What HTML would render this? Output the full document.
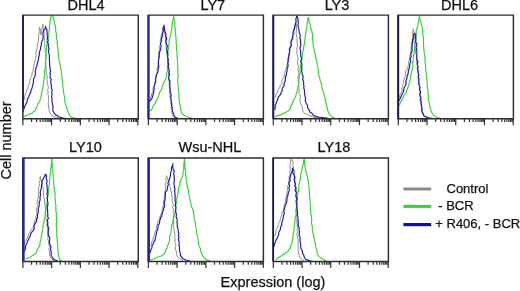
<!DOCTYPE html><html><head><meta charset="utf-8"><style>html,body{margin:0;padding:0;background:#fff;}svg{display:block;filter:blur(0.3px);}text{font-family:"Liberation Sans",sans-serif;fill:#111;stroke:#111;stroke-width:0.25px;}</style></head><body>
<svg width="520" height="291" viewBox="0 0 520 291">
<polyline points="23.0,104.0 22.9,102.2 23.4,100.6 24.7,99.2 24.6,97.4 24.9,95.6 25.3,93.9 26.3,92.3 26.5,90.4 27.5,88.8 28.0,87.1 28.5,85.4 29.4,83.8 29.7,82.0 30.1,80.2 30.5,78.4 31.4,76.8 32.1,75.2 31.9,73.3 32.7,71.7 33.1,70.0 33.7,68.5 33.5,66.8 33.8,65.2 34.3,63.7 34.4,62.1 35.1,60.6 35.5,58.9 35.7,57.2 36.2,55.5 35.6,53.7 36.4,52.0 36.2,50.3 37.3,48.7 37.1,46.9 37.6,45.2 37.7,43.4 38.3,41.8 38.5,40.0 38.7,38.4 38.7,36.7 38.8,35.1 38.8,33.4 39.8,31.9 39.5,30.2 39.1,28.5 39.8,26.9 39.8,28.6 40.6,30.1 40.3,31.8 40.5,33.4 41.0,35.0 41.1,33.2 41.9,31.5 41.6,29.6 42.2,27.9 42.5,26.1 42.9,24.3 43.2,26.2 43.1,28.1 43.5,30.0 43.8,31.7 44.2,33.3 44.0,35.0 44.2,36.7 44.4,38.3 44.6,40.0 44.9,41.6 44.4,43.4 45.0,45.0 44.6,46.6 45.2,48.2 45.1,49.9 45.0,51.5 45.8,53.1 45.5,54.7 46.1,56.3 45.6,57.9 45.9,59.5 45.4,61.2 46.0,62.8 45.6,64.4 46.1,66.0 46.0,67.7 46.2,69.4 46.1,71.1 46.2,72.8 46.7,74.5 47.4,76.1 47.4,77.8 46.8,79.6 47.2,81.2 47.2,82.9 47.6,84.6 48.3,86.4 48.2,88.3 47.6,90.2 48.2,92.0 47.8,93.7 48.4,95.4 48.4,97.1 48.7,98.9 48.5,100.6 48.4,102.3 48.1,104.2 48.7,106.0 48.6,107.9 49.1,109.7 49.2,111.6 50.8,114.2 51.9,115.4 53.3,116.2 54.8,116.8 56.4,117.3 58.2,117.8 60.0,118.3" fill="none" stroke="#8c8c8c" stroke-width="1.0" stroke-linejoin="round"/>
<polyline points="23.7,116.6 26.3,115.4 28.6,114.8 30.6,113.7 32.2,113.1 33.3,111.7 34.8,111.1 35.7,109.4 36.5,107.6 37.4,105.9 37.8,104.1 39.0,102.6 39.9,100.9 40.3,99.1 40.8,97.4 41.3,95.7 41.2,93.9 41.9,92.2 42.2,90.5 42.6,88.9 42.9,87.3 43.3,85.7 43.2,84.0 43.7,82.4 43.4,80.7 44.1,79.1 44.2,77.4 44.6,75.7 44.7,74.0 44.4,72.2 44.7,70.5 44.9,68.8 45.5,67.2 45.3,65.4 45.5,63.7 45.4,62.0 45.5,60.3 45.8,58.6 46.1,56.9 46.3,55.2 45.9,53.4 46.3,51.7 46.2,50.0 46.6,48.4 46.5,46.7 46.9,45.0 47.0,43.3 47.0,41.6 47.5,40.0 48.1,38.4 48.6,36.8 48.8,35.1 48.8,33.5 49.0,31.8 49.2,30.2 49.7,28.5 49.3,26.8 49.6,25.2 50.0,23.6 50.0,21.9 50.4,20.1 50.7,18.3 51.0,16.5 52.5,15.6 53.2,17.1 53.5,18.8 54.1,20.3 54.2,22.0 54.4,23.6 55.3,25.2 55.6,26.8 55.7,28.5 55.6,30.2 55.8,31.8 56.4,33.4 56.3,35.1 56.4,36.8 56.5,38.4 57.2,40.0 57.3,41.7 57.1,43.4 57.4,45.0 57.8,46.6 57.9,48.3 58.0,50.0 57.9,51.6 58.6,53.2 58.4,54.9 58.8,56.6 58.8,58.2 59.0,59.9 59.4,61.9 59.9,64.0 60.3,66.0 60.6,67.7 61.0,69.3 61.3,71.0 61.3,72.8 61.6,74.4 61.9,76.1 62.2,77.8 62.3,79.5 62.5,81.2 62.7,82.9 62.9,84.6 62.8,86.5 63.1,88.3 63.5,90.1 63.6,92.0 63.7,93.7 64.2,95.4 64.5,97.1 65.0,98.8 64.6,100.6 65.2,102.3 65.4,104.4 66.5,106.4 66.7,108.5 67.4,110.2 68.1,111.9 68.8,113.6 69.6,115.3 70.9,116.7 73.0,117.8 74.7,118.0 76.3,118.3 78.0,118.5" fill="none" stroke="#38d038" stroke-width="1.15" stroke-linejoin="round"/>
<polyline points="23.0,112.0 23.7,109.4 24.6,106.8 25.8,104.2 26.9,102.7 27.1,100.8 28.0,98.3 29.0,96.2 29.7,94.0 30.8,92.4 30.9,90.5 31.7,88.8 32.3,87.1 32.7,85.4 33.1,83.7 33.5,82.0 33.4,80.1 33.8,78.4 34.8,76.8 35.1,75.1 35.6,73.4 35.1,71.7 35.7,70.0 35.9,68.2 36.6,66.5 37.1,64.8 37.4,63.0 37.9,61.1 38.6,59.4 38.5,57.5 39.3,55.7 39.2,53.8 39.4,52.1 40.0,50.6 40.6,49.0 40.5,47.3 41.3,45.8 41.3,44.1 41.6,41.9 42.6,40.0 42.9,38.3 43.3,36.6 42.9,34.9 42.9,33.2 43.4,31.5 44.2,29.8 45.3,28.3 45.5,26.4 45.9,28.1 47.0,29.7 47.0,31.5 47.2,33.3 47.2,35.1 47.6,36.8 47.2,38.6 48.3,40.3 47.6,42.2 48.4,43.9 48.2,45.6 48.7,47.3 49.0,49.0 48.5,50.7 48.6,52.4 49.2,54.1 49.3,55.8 49.4,57.5 49.4,59.2 49.4,60.9 49.7,62.6 49.5,64.3 49.9,66.0 50.0,67.7 50.0,69.4 50.8,71.0 49.9,72.8 50.4,74.5 50.1,76.2 50.1,77.9 51.4,79.5 50.6,81.2 50.9,82.9 51.2,84.6 51.5,86.4 51.4,88.3 52.2,90.1 51.8,92.0 51.9,93.7 51.9,95.4 51.5,97.2 52.2,98.9 51.8,100.6 52.1,102.3 52.5,104.1 52.9,105.9 53.0,107.7 52.8,109.5 53.0,111.2 53.9,112.6 55.4,114.7 57.1,115.4 58.5,116.7 60.5,117.2 62.6,117.8 64.8,118.2 67.0,118.5" fill="none" stroke="#1a1aae" stroke-width="1.15" stroke-linejoin="round"/>
<path d="M22.90,118.80 V15.10 H138.30 V118.80 H22.90Z" fill="none" stroke="#2e2e2e" stroke-width="1.45"/>
<line x1="23.00" y1="15.1" x2="23.00" y2="108" stroke="#1a1a60" stroke-width="1.8"/>
<path d="M22.90,118.80v6.5 M31.55,118.80v3.3 M36.61,118.80v3.3 M40.20,118.80v3.3 M42.98,118.80v3.3 M45.26,118.80v3.3 M47.18,118.80v3.3 M48.85,118.80v3.3 M50.32,118.80v3.3 M51.63,118.80v6.5 M60.28,118.80v3.3 M65.34,118.80v3.3 M68.93,118.80v3.3 M71.71,118.80v3.3 M73.99,118.80v3.3 M75.91,118.80v3.3 M77.58,118.80v3.3 M79.05,118.80v3.3 M80.36,118.80v6.5 M89.01,118.80v3.3 M94.07,118.80v3.3 M97.66,118.80v3.3 M100.44,118.80v3.3 M102.72,118.80v3.3 M104.64,118.80v3.3 M106.31,118.80v3.3 M107.78,118.80v3.3 M109.09,118.80v6.5 M117.74,118.80v3.3 M122.80,118.80v3.3 M126.39,118.80v3.3 M129.17,118.80v3.3 M131.45,118.80v3.3 M133.37,118.80v3.3 M135.04,118.80v3.3 M136.51,118.80v3.3 M137.82,118.80v6.5" stroke="#333" stroke-width="1.2" fill="none"/>
<text x="86.0" y="10.3" font-size="14.5" text-anchor="middle" fill="#111">DHL4</text>
<polyline points="149.5,102.0 150.5,100.1 150.5,97.9 151.5,96.0 151.5,93.9 153.0,92.1 153.0,90.0 153.0,88.1 153.7,86.3 154.5,84.6 154.3,82.6 155.4,80.9 155.6,79.0 155.7,77.1 156.2,75.3 156.9,73.5 157.3,71.7 156.7,69.6 157.5,67.9 157.8,66.0 158.3,64.3 158.1,62.6 158.6,61.0 158.4,59.2 158.6,57.5 158.7,55.9 158.9,54.2 158.5,52.4 159.5,50.8 159.8,49.1 159.4,47.4 159.8,45.5 160.5,43.7 160.2,41.7 160.3,39.8 161.0,38.0 160.9,36.2 161.4,34.5 162.2,32.9 162.8,31.3 162.7,29.5 163.6,27.9 163.6,29.7 164.6,31.4 164.5,33.3 165.0,35.0 165.7,36.6 165.4,38.3 165.4,40.0 165.3,41.7 166.1,43.3 165.8,45.0 166.1,46.7 166.7,48.3 166.5,50.0 166.5,51.6 166.9,53.2 167.0,54.8 167.4,56.4 167.6,58.0 167.5,59.6 167.8,61.2 168.1,62.8 167.7,64.4 168.0,66.0 168.1,67.7 167.7,69.4 168.1,71.1 168.8,72.7 168.5,74.5 168.2,76.2 168.7,77.8 168.6,79.5 169.1,81.2 169.2,82.9 169.2,84.6 169.4,86.4 169.2,88.3 169.9,90.1 169.7,92.0 170.1,93.7 169.8,95.5 169.9,97.2 170.7,98.8 171.0,100.5 170.8,102.3 170.8,104.0 171.6,105.7 170.9,107.5 171.6,109.2 172.1,110.8 171.8,112.6 172.3,114.7 173.5,116.5 176.0,118.3" fill="none" stroke="#8c8c8c" stroke-width="1.0" stroke-linejoin="round"/>
<polyline points="149.4,111.1 151.1,110.2 152.1,108.6 152.8,106.8 154.6,104.2 155.6,102.6 156.3,100.8 157.1,99.1 158.0,97.4 158.7,95.7 159.1,94.0 159.7,92.3 160.9,90.7 161.7,89.0 162.3,87.1 162.5,85.3 163.7,83.8 164.0,82.0 165.1,80.4 165.7,78.6 166.4,76.9 166.5,75.2 166.6,73.4 167.1,71.7 167.4,70.0 167.4,68.3 167.6,66.6 167.6,64.9 167.9,63.2 167.7,61.5 167.7,59.7 167.5,58.0 167.6,56.3 168.1,54.6 168.0,52.9 167.9,51.2 168.2,49.6 168.7,48.0 168.5,46.3 169.1,44.7 169.2,43.0 169.0,41.3 169.3,39.7 169.8,38.1 170.3,36.3 170.4,34.4 171.1,32.6 171.4,30.9 171.5,29.2 172.1,27.6 171.7,25.9 172.3,24.3 172.2,22.5 172.5,20.9 173.2,19.3 173.5,17.6 173.5,15.9 174.0,17.7 174.0,19.6 174.7,21.4 174.8,23.3 174.9,25.2 174.7,27.0 175.5,28.9 175.0,30.8 175.4,32.6 175.6,34.3 175.7,36.0 176.0,37.7 176.0,39.4 176.3,41.0 176.0,42.8 176.3,44.4 176.7,46.1 176.3,47.8 176.5,49.5 176.7,51.2 177.2,52.8 176.9,54.5 176.9,56.2 177.4,57.9 177.2,59.6 177.6,61.2 177.7,62.9 177.7,64.6 177.6,66.3 178.0,67.9 177.7,69.6 178.0,71.2 177.8,72.9 178.2,74.6 178.2,76.2 177.9,77.9 177.7,79.6 177.7,81.3 177.9,82.9 178.0,84.6 178.2,86.3 178.1,88.0 178.4,89.7 178.7,91.3 178.9,93.0 178.9,94.7 178.8,96.4 179.0,98.1 179.3,99.8 179.4,101.5 179.4,103.2 180.1,105.0 180.3,106.9 180.8,108.7 180.9,110.6 181.5,112.4 182.5,114.0 183.9,115.2 185.5,116.0 187.2,116.7 189.0,117.3 192.0,118.2" fill="none" stroke="#38d038" stroke-width="1.15" stroke-linejoin="round"/>
<polyline points="149.4,100.8 150.8,100.0 152.0,98.3 152.8,95.7 153.2,94.0 153.7,92.3 153.9,90.5 154.2,88.8 154.0,87.0 154.6,85.4 154.9,83.7 155.7,82.1 155.7,80.3 155.6,78.4 156.3,76.8 156.2,75.0 157.2,73.4 157.9,71.8 158.0,70.0 158.3,68.3 158.9,66.6 158.4,64.9 158.5,63.1 158.4,61.4 158.8,59.7 158.8,58.0 159.4,56.3 159.3,54.6 159.2,52.9 159.9,51.2 160.7,49.4 160.9,47.6 161.0,45.7 160.5,43.7 161.2,41.9 161.6,40.2 161.4,38.5 162.3,36.9 162.3,35.2 162.5,33.5 163.1,31.9 163.4,30.2 162.9,28.4 163.5,26.7 164.0,25.1 164.1,27.0 164.7,28.9 164.6,30.8 165.5,32.6 166.0,34.3 165.5,36.0 166.4,37.6 166.6,39.3 165.8,41.1 166.2,42.8 166.6,44.4 167.5,46.1 166.8,47.8 166.7,49.6 167.4,51.2 167.3,52.9 167.8,54.5 167.6,56.2 167.8,57.9 168.4,59.5 168.0,61.2 168.2,62.9 168.8,64.5 168.0,66.3 168.7,67.9 168.9,69.6 169.4,71.2 168.8,72.9 169.7,74.5 168.9,76.3 168.8,78.0 168.9,79.6 170.1,81.2 169.9,82.9 169.8,84.6 169.7,86.5 170.2,88.3 170.1,90.2 170.2,92.0 170.9,93.7 171.0,95.4 170.8,97.1 170.9,98.9 171.4,100.6 171.3,102.3 171.9,103.9 171.5,105.6 172.4,107.2 172.1,108.9 172.3,110.6 172.9,112.3 173.7,113.9 173.9,115.7 175.4,117.3 178.0,118.5" fill="none" stroke="#1a1aae" stroke-width="1.15" stroke-linejoin="round"/>
<path d="M148.40,118.80 V15.10 H263.40 V118.80 H148.40Z" fill="none" stroke="#2e2e2e" stroke-width="1.45"/>
<line x1="148.50" y1="15.1" x2="148.50" y2="118.8" stroke="#24249a" stroke-width="2.3"/>
<path d="M148.40,118.80v6.5 M157.05,118.80v3.3 M162.11,118.80v3.3 M165.70,118.80v3.3 M168.48,118.80v3.3 M170.76,118.80v3.3 M172.68,118.80v3.3 M174.35,118.80v3.3 M175.82,118.80v3.3 M177.13,118.80v6.5 M185.78,118.80v3.3 M190.84,118.80v3.3 M194.43,118.80v3.3 M197.21,118.80v3.3 M199.49,118.80v3.3 M201.41,118.80v3.3 M203.08,118.80v3.3 M204.55,118.80v3.3 M205.86,118.80v6.5 M214.51,118.80v3.3 M219.57,118.80v3.3 M223.16,118.80v3.3 M225.94,118.80v3.3 M228.22,118.80v3.3 M230.14,118.80v3.3 M231.81,118.80v3.3 M233.28,118.80v3.3 M234.59,118.80v6.5 M243.24,118.80v3.3 M248.30,118.80v3.3 M251.89,118.80v3.3 M254.67,118.80v3.3 M256.95,118.80v3.3 M258.87,118.80v3.3 M260.54,118.80v3.3 M262.01,118.80v3.3 M263.32,118.80v6.5" stroke="#333" stroke-width="1.2" fill="none"/>
<text x="212.8" y="10.3" font-size="14.5" text-anchor="middle" fill="#111">LY7</text>
<polyline points="275.3,97.4 275.7,95.1 277.0,93.1 277.9,91.0 278.7,88.8 279.7,87.5 280.0,85.8 281.2,84.6 282.1,83.2 281.7,81.3 282.4,79.8 282.9,78.2 284.1,76.9 284.5,75.3 284.6,73.6 285.0,72.0 285.5,70.3 286.0,68.6 286.6,66.9 287.0,65.2 287.5,63.5 287.8,61.8 288.0,60.0 287.8,58.2 288.7,56.7 288.9,55.0 289.0,53.3 290.1,51.7 289.9,50.0 290.0,48.3 290.8,46.7 291.0,45.0 290.9,43.3 291.8,41.8 292.3,40.2 293.0,38.6 293.0,36.9 292.8,35.1 294.0,33.7 294.0,32.0 294.1,30.2 294.3,28.4 295.4,26.8 295.3,25.0 296.0,23.3 296.5,24.9 296.7,26.6 296.5,28.3 296.6,30.0 296.3,31.7 296.1,33.3 296.4,35.0 296.5,36.7 297.3,38.3 297.0,40.0 297.2,41.6 297.0,43.2 297.5,44.8 297.4,46.4 296.9,48.0 296.8,49.6 297.0,51.2 296.7,52.9 297.2,54.5 297.3,56.2 298.0,57.8 298.1,59.5 297.4,61.2 297.6,62.9 297.7,64.6 298.4,66.2 298.3,67.9 298.0,69.6 298.4,71.2 298.8,72.9 298.9,74.6 297.9,76.3 297.9,77.9 298.2,79.6 298.4,81.3 298.9,82.9 298.5,84.6 299.1,86.2 298.7,88.0 299.3,89.6 299.0,91.4 299.0,93.1 300.1,94.7 300.4,96.4 300.4,98.1 299.8,99.9 300.2,101.5 300.7,103.2 300.9,104.8 302.1,106.1 302.3,107.7 302.8,109.3 302.7,111.0 303.5,112.4 304.9,113.6 306.7,114.1 308.2,115.2 310.1,115.9 312.1,116.6 314.0,117.3 316.0,117.6 318.0,117.9 320.0,118.2" fill="none" stroke="#8c8c8c" stroke-width="1.0" stroke-linejoin="round"/>
<polyline points="274.7,117.5 276.1,116.2 278.2,115.4 280.4,114.9 282.6,114.0 284.7,112.8 286.4,111.9 288.1,111.1 289.6,109.6 290.7,107.7 291.0,105.9 292.0,104.3 292.6,102.5 293.3,100.8 294.1,99.1 295.0,97.4 295.8,95.7 296.2,94.1 296.9,92.6 297.3,91.0 297.5,89.4 297.9,87.8 297.9,86.1 298.5,84.6 298.8,82.9 298.9,81.3 298.9,79.6 299.3,77.9 299.2,76.2 299.4,74.6 300.2,72.9 300.3,71.3 299.9,69.5 300.4,67.9 300.7,66.2 300.6,64.5 300.9,62.8 301.6,61.2 301.9,59.6 302.0,57.9 302.2,56.2 302.4,54.5 302.7,52.9 303.0,51.2 303.5,49.5 303.7,47.8 303.6,46.1 304.4,44.5 304.4,42.8 304.7,41.1 304.8,39.4 305.3,37.7 305.2,36.0 305.4,34.3 305.9,32.6 306.1,30.9 306.3,29.2 307.0,27.6 306.8,25.8 307.1,24.1 307.4,22.4 307.7,20.7 307.8,19.0 308.2,17.3 308.7,19.0 308.9,20.7 309.2,22.5 310.2,24.0 310.5,25.8 310.6,27.6 311.2,29.2 311.8,30.9 312.2,32.6 312.4,34.3 312.7,35.9 312.3,37.6 312.4,39.3 313.1,41.0 312.9,42.7 313.2,44.3 313.3,46.0 313.7,47.7 314.2,49.5 314.5,51.3 314.6,53.1 315.4,54.7 315.8,56.5 315.9,58.3 316.4,60.0 316.4,61.6 317.2,63.2 317.3,64.8 317.4,66.4 317.9,68.0 318.2,69.6 318.4,71.2 318.5,72.8 318.7,74.4 319.1,76.0 319.6,77.6 319.9,79.2 320.2,80.9 320.8,82.4 321.4,84.0 321.7,85.6 321.8,87.4 322.4,89.0 322.8,90.8 323.7,92.3 323.9,94.1 324.4,95.8 325.0,97.4 325.1,99.2 325.3,101.0 326.0,102.6 326.6,104.3 326.5,106.1 327.4,107.7 327.4,109.5 328.1,111.2 329.1,113.4 330.3,115.4 332.4,117.1 335.0,118.2" fill="none" stroke="#38d038" stroke-width="1.15" stroke-linejoin="round"/>
<polyline points="274.6,110.0 275.3,107.7 275.1,105.4 276.1,103.4 276.9,101.2 277.8,99.1 278.2,97.2 279.6,95.7 280.7,94.1 281.3,92.3 282.2,90.7 282.1,88.7 283.0,87.1 284.1,85.6 284.1,83.7 284.7,82.0 285.4,80.3 285.3,78.5 285.5,76.7 286.4,75.1 286.5,73.4 286.9,71.7 287.3,70.0 287.1,68.2 288.0,66.6 288.0,64.9 287.7,63.1 288.3,61.4 288.1,59.7 288.9,58.1 288.5,56.3 289.1,54.6 289.4,52.9 289.6,51.2 289.3,49.4 289.8,47.8 291.0,46.3 291.4,44.7 290.8,42.8 291.1,41.2 291.7,39.6 292.6,38.0 292.4,36.3 293.2,34.8 292.9,33.0 293.2,31.4 293.8,29.9 294.7,28.4 294.6,26.7 295.1,25.1 295.5,23.3 296.2,21.5 295.7,19.5 296.3,17.7 297.0,15.9 297.6,17.5 297.8,19.2 298.2,20.8 298.2,22.5 298.1,24.3 298.0,26.0 298.4,27.6 298.9,29.2 299.0,30.9 299.2,32.6 300.0,34.4 300.2,36.3 299.8,38.2 300.5,40.0 300.4,41.9 300.8,43.7 300.6,45.6 300.0,47.5 300.2,49.4 300.7,51.2 300.4,52.9 300.9,54.5 300.7,56.2 301.6,57.9 301.4,59.5 300.8,61.2 301.6,62.9 301.9,64.5 301.8,66.2 301.7,67.9 301.8,69.6 301.6,71.3 302.2,72.9 302.2,74.6 303.2,76.2 303.0,77.9 302.6,79.6 303.5,81.2 303.7,82.9 303.5,84.6 304.1,86.2 303.6,87.9 304.4,89.5 304.4,91.2 304.6,92.8 304.8,94.5 304.8,96.1 305.6,97.7 305.4,99.4 305.3,101.1 305.9,102.6 306.7,104.1 307.7,105.5 307.4,107.3 308.2,108.7 309.3,110.3 310.0,112.2 311.8,113.0 312.8,114.8 314.3,115.9 316.4,116.5 318.5,117.1 320.6,117.3 322.8,117.6 324.5,117.8 326.3,118.0 328.0,118.2" fill="none" stroke="#1a1aae" stroke-width="1.15" stroke-linejoin="round"/>
<path d="M273.30,118.80 V15.10 H388.40 V118.80 H273.30Z" fill="none" stroke="#2e2e2e" stroke-width="1.45"/>
<line x1="273.30" y1="15.1" x2="273.30" y2="118.8" stroke="#141460" stroke-width="1.9"/>
<path d="M273.30,118.80v6.5 M281.95,118.80v3.3 M287.01,118.80v3.3 M290.60,118.80v3.3 M293.38,118.80v3.3 M295.66,118.80v3.3 M297.58,118.80v3.3 M299.25,118.80v3.3 M300.72,118.80v3.3 M302.03,118.80v6.5 M310.68,118.80v3.3 M315.74,118.80v3.3 M319.33,118.80v3.3 M322.11,118.80v3.3 M324.39,118.80v3.3 M326.31,118.80v3.3 M327.98,118.80v3.3 M329.45,118.80v3.3 M330.76,118.80v6.5 M339.41,118.80v3.3 M344.47,118.80v3.3 M348.06,118.80v3.3 M350.84,118.80v3.3 M353.12,118.80v3.3 M355.04,118.80v3.3 M356.71,118.80v3.3 M358.18,118.80v3.3 M359.49,118.80v6.5 M368.14,118.80v3.3 M373.20,118.80v3.3 M376.79,118.80v3.3 M379.57,118.80v3.3 M381.85,118.80v3.3 M383.77,118.80v3.3 M385.44,118.80v3.3 M386.91,118.80v3.3 M388.22,118.80v6.5" stroke="#333" stroke-width="1.2" fill="none"/>
<text x="337.0" y="10.3" font-size="14.5" text-anchor="middle" fill="#111">LY3</text>
<polyline points="399.5,97.0 400.3,94.2 401.4,92.6 402.0,90.8 401.7,89.0 402.4,87.3 402.8,85.6 402.9,83.9 403.9,82.3 403.7,80.5 404.4,78.9 404.9,77.2 405.4,75.5 405.3,73.7 405.4,71.9 406.3,70.3 407.5,68.7 408.0,66.8 408.3,65.1 408.4,63.3 408.6,61.5 409.7,59.9 409.8,58.2 409.8,56.4 410.3,54.7 410.6,52.9 410.9,51.2 411.0,49.6 411.1,48.0 411.2,46.4 411.5,44.8 411.2,43.2 412.3,41.6 412.0,40.0 412.3,38.2 412.4,36.3 412.7,34.5 412.2,32.5 413.4,30.8 413.1,28.9 413.6,30.7 413.0,32.6 413.4,34.5 413.6,36.3 414.1,38.1 414.0,40.0 414.0,41.6 414.1,43.2 415.0,44.8 415.0,46.4 414.6,48.1 415.5,49.6 415.5,51.2 415.2,52.9 416.3,54.4 416.6,56.1 416.4,57.8 416.8,59.4 416.7,61.1 416.6,62.8 417.5,64.3 417.5,66.0 417.3,67.7 417.5,69.4 418.3,71.0 418.5,72.7 418.4,74.4 418.6,76.1 418.2,77.9 418.2,79.6 418.7,81.2 419.0,82.9 419.0,84.6 419.6,86.2 419.1,88.0 419.5,89.7 420.2,91.3 419.3,93.1 419.6,94.8 420.7,96.4 420.5,98.1 420.0,99.9 420.2,101.6 420.8,103.2 420.9,105.1 421.4,106.9 421.8,108.7 422.2,110.5 422.0,112.4 422.9,114.0 423.5,115.8 425.2,116.9 427.0,118.0" fill="none" stroke="#8c8c8c" stroke-width="1.0" stroke-linejoin="round"/>
<polyline points="399.4,105.4 400.3,102.8 401.4,101.2 402.0,99.4 403.1,97.8 403.7,96.0 404.9,94.2 406.3,92.5 406.6,90.7 407.3,89.0 407.9,87.3 408.8,85.7 408.8,83.9 409.8,82.3 409.8,80.5 410.4,78.9 410.6,77.1 410.7,75.4 411.4,73.7 411.3,71.9 412.2,70.4 412.3,68.6 412.7,66.9 412.8,65.2 412.4,63.4 413.1,61.7 413.1,60.0 413.4,58.2 413.5,56.5 413.4,54.7 414.3,53.0 414.2,51.2 414.8,49.4 414.9,47.5 414.9,45.6 415.1,43.7 415.5,41.9 415.6,40.3 415.5,38.6 416.1,37.0 416.3,35.4 416.2,33.8 416.1,32.1 416.3,30.5 416.8,28.9 417.6,27.1 417.9,25.1 418.2,23.3 418.7,21.5 418.7,19.6 419.1,17.8 419.2,15.9 419.3,17.8 420.1,19.6 420.8,21.4 421.1,23.2 421.5,25.1 422.6,27.9 422.5,29.7 422.8,31.4 422.9,33.2 422.8,34.9 423.4,36.6 423.6,38.4 423.5,40.1 423.5,41.9 423.5,43.8 423.6,45.6 423.7,47.5 423.8,49.4 424.2,51.2 424.1,52.9 424.5,54.5 424.9,56.1 424.8,57.8 425.3,59.4 425.0,61.1 425.1,62.7 425.4,64.3 425.5,66.0 425.7,67.7 425.7,69.4 425.8,71.1 426.3,72.8 426.5,74.4 426.5,76.1 426.7,77.8 426.8,79.5 427.1,81.2 427.3,82.9 427.2,84.6 427.5,86.4 427.3,88.3 428.1,90.0 428.0,91.8 428.1,93.7 428.5,95.5 428.4,97.3 428.3,99.0 428.6,100.6 428.9,102.2 429.5,103.8 429.5,105.5 429.9,107.5 430.6,109.5 431.3,111.4 432.3,113.5 433.6,115.5 435.1,116.3 436.5,117.2 438.2,117.8 440.0,118.3" fill="none" stroke="#38d038" stroke-width="1.15" stroke-linejoin="round"/>
<polyline points="398.6,101.1 399.7,99.5 400.3,97.7 401.5,96.1 402.0,94.2 403.2,92.2 403.7,90.0 404.1,87.7 405.4,85.7 406.1,83.8 405.8,81.7 406.4,79.7 407.1,77.7 407.1,75.6 408.1,73.9 408.3,72.0 408.5,70.1 409.3,68.4 409.6,66.6 409.8,64.7 410.0,63.0 410.8,61.5 410.1,59.6 410.4,58.0 411.2,56.4 410.9,54.7 411.0,53.1 411.9,51.5 412.2,49.9 411.9,48.2 412.2,46.6 412.0,44.9 412.4,43.3 412.5,41.6 412.6,40.0 413.5,38.4 413.8,36.8 413.6,35.0 414.7,33.0 415.3,35.0 415.6,37.0 416.0,40.0 415.5,41.9 416.6,43.6 416.9,45.5 416.1,47.4 416.8,49.2 416.7,51.0 416.9,52.9 416.8,54.8 416.8,56.7 416.7,58.6 417.4,60.5 418.0,62.1 417.1,63.7 417.3,65.3 418.2,66.9 417.4,68.5 418.1,70.1 418.0,71.7 418.0,73.3 418.9,74.9 418.0,76.5 419.0,78.1 418.8,79.7 418.9,81.8 418.8,84.0 419.5,86.0 420.2,87.7 419.4,89.5 420.3,91.1 420.7,92.8 419.8,94.6 420.1,96.4 421.1,98.0 420.5,99.8 421.2,101.5 421.1,103.2 421.6,105.0 421.7,106.9 422.2,108.7 421.6,110.6 422.4,112.4 423.5,114.0 423.9,115.8 425.4,116.5 427.0,117.1 428.5,117.8 430.2,118.0 432.0,118.2" fill="none" stroke="#1a1aae" stroke-width="1.15" stroke-linejoin="round"/>
<path d="M398.30,118.80 V15.10 H513.40 V118.80 H398.30Z" fill="none" stroke="#2e2e2e" stroke-width="1.45"/>
<line x1="398.20" y1="15.1" x2="398.20" y2="118.8" stroke="#141450" stroke-width="1.9"/>
<path d="M398.30,118.80v6.5 M406.95,118.80v3.3 M412.01,118.80v3.3 M415.60,118.80v3.3 M418.38,118.80v3.3 M420.66,118.80v3.3 M422.58,118.80v3.3 M424.25,118.80v3.3 M425.72,118.80v3.3 M427.03,118.80v6.5 M435.68,118.80v3.3 M440.74,118.80v3.3 M444.33,118.80v3.3 M447.11,118.80v3.3 M449.39,118.80v3.3 M451.31,118.80v3.3 M452.98,118.80v3.3 M454.45,118.80v3.3 M455.76,118.80v6.5 M464.41,118.80v3.3 M469.47,118.80v3.3 M473.06,118.80v3.3 M475.84,118.80v3.3 M478.12,118.80v3.3 M480.04,118.80v3.3 M481.71,118.80v3.3 M483.18,118.80v3.3 M484.49,118.80v6.5 M493.14,118.80v3.3 M498.20,118.80v3.3 M501.79,118.80v3.3 M504.57,118.80v3.3 M506.85,118.80v3.3 M508.77,118.80v3.3 M510.44,118.80v3.3 M511.91,118.80v3.3 M513.22,118.80v6.5" stroke="#333" stroke-width="1.2" fill="none"/>
<text x="459.6" y="10.3" font-size="14.5" text-anchor="middle" fill="#111">DHL6</text>
<polyline points="24.0,245.0 24.4,243.1 25.1,241.3 26.5,239.9 27.0,238.0 28.1,236.7 28.7,235.1 29.1,233.4 30.0,232.0 30.8,230.4 31.8,228.9 33.1,227.6 33.9,226.1 34.0,224.5 34.0,222.8 34.7,221.3 34.9,219.7 35.9,218.3 35.9,216.4 36.9,214.7 36.5,212.7 36.8,210.9 36.6,209.2 36.9,207.6 37.5,205.9 36.9,204.2 37.6,202.6 37.4,200.9 37.9,199.0 38.5,197.1 38.5,195.1 38.7,193.1 38.7,191.2 38.5,189.2 38.8,187.3 39.3,185.4 39.1,183.5 39.4,181.7 40.3,179.9 39.9,178.0 40.5,176.2 40.3,178.0 41.3,179.7 41.6,181.4 41.8,183.2 42.0,185.0 42.8,186.8 43.2,188.8 43.5,190.8 43.5,192.7 43.5,194.5 43.6,196.4 44.1,198.2 44.6,200.0 44.7,202.0 44.9,203.9 45.2,205.9 45.2,207.9 45.8,209.6 45.6,211.3 45.4,213.1 46.0,214.8 45.7,216.6 46.0,218.3 46.4,220.0 47.2,221.6 46.9,223.4 46.5,225.2 47.6,226.8 47.1,228.6 47.7,230.3 47.7,232.0 48.2,233.7 48.1,235.5 48.1,237.3 47.7,239.1 48.4,240.8 48.7,242.4 48.9,244.1 49.3,245.7 49.5,247.4 48.8,249.1 49.5,250.7 49.4,252.7 49.5,254.7 50.1,256.7 51.7,258.9 54.0,260.6" fill="none" stroke="#8c8c8c" stroke-width="1.0" stroke-linejoin="round"/>
<polyline points="25.6,259.2 27.5,258.4 29.4,257.4 31.2,256.4 32.6,255.4 34.1,254.5 35.7,253.8 36.5,251.6 37.4,249.5 38.3,247.8 39.4,246.2 40.0,244.4 40.0,242.6 40.5,240.9 41.0,239.3 41.1,237.5 41.3,235.8 41.7,234.1 42.2,232.4 42.5,230.7 42.8,229.0 42.8,227.2 43.3,225.5 43.4,223.8 44.0,222.2 44.0,220.4 44.2,218.7 45.1,217.1 45.1,215.3 45.2,213.7 45.2,212.1 46.0,210.5 45.9,208.9 45.9,207.3 46.7,205.7 46.4,204.1 47.1,202.5 47.4,200.9 47.4,199.3 47.5,197.6 47.7,195.9 48.3,194.2 48.4,192.5 48.5,190.8 48.4,189.0 48.7,187.3 49.2,185.6 49.5,183.9 49.5,182.2 49.4,180.5 49.8,178.8 49.8,177.0 50.1,175.3 50.4,173.6 50.6,171.9 50.7,170.2 50.5,168.4 51.3,166.7 51.2,165.0 51.5,163.4 51.6,161.8 51.5,160.1 51.7,158.5 52.0,160.2 51.9,161.9 52.1,163.5 52.6,165.2 52.1,166.9 52.2,168.6 52.6,170.2 53.0,171.9 52.9,173.6 53.3,175.3 53.1,177.1 53.7,178.7 53.7,180.5 53.9,182.2 53.6,184.0 54.2,185.6 53.9,187.4 54.2,189.1 54.6,190.8 55.1,192.6 55.2,194.5 54.8,196.3 55.0,198.2 55.4,200.0 55.3,201.7 55.4,203.3 56.0,204.9 55.8,206.6 55.8,208.2 55.9,209.9 55.9,211.5 56.5,213.1 56.3,214.8 56.3,216.5 56.6,218.2 56.3,220.0 56.8,221.7 56.2,223.4 56.4,225.1 56.3,226.8 56.7,228.6 56.7,230.3 56.7,232.0 56.9,233.8 56.6,235.5 57.0,237.3 57.2,239.0 57.2,240.8 57.3,242.6 57.8,244.3 57.8,246.1 57.6,247.8 57.8,249.6 58.1,251.5 58.5,253.4 58.5,255.4 58.9,257.3 59.5,258.9 60.0,260.4 62.0,261.0" fill="none" stroke="#38d038" stroke-width="1.15" stroke-linejoin="round"/>
<polyline points="23.5,252.0 24.6,250.4 25.6,248.4 25.4,246.1 26.3,244.4 27.1,242.7 27.7,240.8 28.8,239.2 29.2,237.4 30.4,235.9 30.6,234.1 31.7,232.3 33.1,230.7 34.0,229.1 34.1,227.3 34.1,225.5 34.8,223.8 36.6,221.3 36.4,219.5 37.4,217.9 37.4,216.2 37.6,214.5 38.3,212.6 38.3,210.6 38.2,208.6 39.1,206.4 39.3,204.0 39.2,202.0 40.2,200.1 40.0,198.2 40.2,196.2 40.6,194.3 40.2,192.3 40.7,190.4 41.3,188.5 41.4,186.4 41.7,184.4 42.1,182.3 42.2,180.6 43.1,179.2 43.6,177.7 44.9,176.4 45.1,174.6 45.9,174.4 46.6,176.3 46.0,178.3 47.1,180.2 46.9,182.2 46.6,183.9 47.2,185.6 47.0,187.3 47.3,189.0 47.4,190.7 47.4,192.5 46.8,194.2 47.8,195.9 47.2,197.6 47.4,199.3 47.5,201.0 48.0,202.7 47.8,204.5 47.7,206.2 47.2,207.9 47.6,209.6 47.6,211.4 47.7,213.1 47.8,214.8 47.7,216.5 48.5,218.2 47.4,220.0 47.7,221.7 47.8,223.4 47.7,225.1 48.1,226.8 48.8,228.5 48.3,230.3 48.4,232.0 48.1,233.8 48.3,235.6 49.6,237.2 49.8,239.0 49.5,240.8 49.4,242.6 49.7,244.3 50.7,246.0 50.8,247.8 50.6,249.6 50.9,251.3 51.4,252.9 50.9,254.6 51.7,256.2 53.4,258.9 55.6,260.4 58.0,261.0" fill="none" stroke="#1a1aae" stroke-width="1.15" stroke-linejoin="round"/>
<path d="M22.90,261.40 V157.90 H138.30 V261.40 H22.90Z" fill="none" stroke="#2e2e2e" stroke-width="1.45"/>
<line x1="23.40" y1="157.9" x2="23.40" y2="261.4" stroke="#26268e" stroke-width="2.5"/>
<path d="M22.90,261.40v6.5 M31.55,261.40v3.3 M36.61,261.40v3.3 M40.20,261.40v3.3 M42.98,261.40v3.3 M45.26,261.40v3.3 M47.18,261.40v3.3 M48.85,261.40v3.3 M50.32,261.40v3.3 M51.63,261.40v6.5 M60.28,261.40v3.3 M65.34,261.40v3.3 M68.93,261.40v3.3 M71.71,261.40v3.3 M73.99,261.40v3.3 M75.91,261.40v3.3 M77.58,261.40v3.3 M79.05,261.40v3.3 M80.36,261.40v6.5 M89.01,261.40v3.3 M94.07,261.40v3.3 M97.66,261.40v3.3 M100.44,261.40v3.3 M102.72,261.40v3.3 M104.64,261.40v3.3 M106.31,261.40v3.3 M107.78,261.40v3.3 M109.09,261.40v6.5 M117.74,261.40v3.3 M122.80,261.40v3.3 M126.39,261.40v3.3 M129.17,261.40v3.3 M131.45,261.40v3.3 M133.37,261.40v3.3 M135.04,261.40v3.3 M136.51,261.40v3.3 M137.82,261.40v6.5" stroke="#333" stroke-width="1.2" fill="none"/>
<text x="85.4" y="152.0" font-size="14.5" text-anchor="middle" fill="#111">LY10</text>
<polyline points="150.9,246.0 151.2,244.0 151.7,242.0 152.8,240.2 153.1,238.5 153.5,236.8 154.5,235.4 154.7,233.6 155.1,232.0 155.8,230.4 156.7,228.9 156.3,227.0 157.0,225.4 157.2,223.7 157.7,222.1 158.6,220.6 159.3,219.1 159.5,217.4 160.5,215.9 160.8,214.3 161.6,212.8 162.2,211.3 161.9,209.6 162.8,208.1 162.6,206.4 163.5,205.0 163.4,203.2 163.4,201.3 163.9,199.6 164.4,197.8 164.2,196.0 164.6,194.2 164.7,192.5 165.2,190.8 165.3,189.1 165.5,187.5 165.6,185.8 165.1,184.0 165.6,182.4 166.4,180.7 165.6,178.9 166.6,177.3 166.4,175.6 167.3,177.7 168.0,180.0 169.1,181.4 169.0,183.4 169.8,184.9 169.9,186.8 170.7,188.6 170.8,190.5 171.5,192.3 171.6,194.2 172.1,195.8 172.3,197.5 172.0,199.2 172.0,200.9 172.5,202.6 173.3,204.2 173.2,205.9 172.6,207.6 173.6,209.2 173.5,210.9 173.1,212.6 174.1,214.2 174.1,215.9 173.3,217.6 173.6,219.3 173.5,220.9 173.7,222.6 173.4,224.3 173.4,225.9 173.9,227.6 174.2,229.8 174.3,232.0 174.8,233.7 175.0,235.5 174.7,237.3 175.0,239.0 175.1,240.8 174.7,242.5 175.5,244.1 176.0,245.7 175.2,247.4 175.3,249.1 176.0,250.7 176.8,252.4 176.5,254.4 177.1,256.2 179.3,258.4 181.2,259.5 183.0,260.6" fill="none" stroke="#8c8c8c" stroke-width="1.0" stroke-linejoin="round"/>
<polyline points="150.0,260.0 152.8,259.3 154.8,258.5 156.7,257.7 158.2,256.8 160.0,256.5 161.6,255.8 163.1,254.7 164.3,253.3 165.5,251.9 165.8,250.2 166.7,248.8 167.2,247.2 167.6,245.5 168.5,244.1 168.9,242.5 169.4,240.9 169.7,239.2 169.6,237.5 169.9,235.9 170.4,234.3 171.0,232.7 171.3,231.0 171.2,229.3 171.6,227.6 171.6,225.7 172.2,223.8 172.6,222.0 172.9,220.1 173.5,218.3 174.0,216.5 174.1,214.5 175.1,212.8 175.4,210.9 175.5,209.2 175.6,207.5 175.7,205.8 176.2,204.2 176.3,202.5 176.9,200.9 176.6,199.2 176.9,197.5 177.4,195.9 177.6,194.2 178.0,192.6 178.4,190.9 178.5,189.3 178.8,187.6 179.2,186.0 180.0,184.4 179.7,182.7 180.4,181.1 181.0,179.2 182.1,177.5 182.8,175.6 183.1,173.8 182.8,171.8 183.6,170.0 183.8,168.2 183.7,166.3 183.9,164.5 183.9,162.6 184.4,160.8 184.3,158.9 184.6,160.5 184.9,162.1 184.8,163.7 185.1,165.3 185.1,166.9 184.8,168.5 185.6,170.1 185.4,171.7 185.6,173.4 185.5,175.2 186.1,176.8 185.9,178.6 186.7,180.2 186.5,182.0 186.8,183.7 187.2,185.4 187.2,187.2 188.1,188.7 188.4,190.4 188.5,192.2 188.7,193.9 189.3,195.6 189.4,197.4 189.8,199.1 190.2,200.8 190.6,202.5 191.0,204.2 191.1,206.1 191.9,207.7 192.6,208.0 192.6,209.6 193.4,211.1 193.4,212.7 193.7,214.3 194.1,215.9 194.1,217.5 194.3,219.2 195.0,220.8 195.1,222.5 195.5,224.2 195.5,225.9 195.8,227.6 196.5,229.4 196.5,231.3 196.6,233.2 197.0,235.1 197.6,236.9 197.9,238.7 198.3,240.5 198.5,242.3 198.6,244.1 199.2,245.9 199.8,247.4 200.5,248.8 200.4,250.6 201.2,252.0 201.7,253.5 202.5,255.7 203.9,257.6 205.4,258.8 206.8,259.9 208.4,260.4 210.0,261.0" fill="none" stroke="#38d038" stroke-width="1.15" stroke-linejoin="round"/>
<polyline points="149.3,254.0 149.9,252.9 150.6,251.3 150.9,249.5 151.9,248.0 152.0,245.9 153.1,244.0 153.8,242.1 155.0,240.4 155.3,238.3 155.8,236.3 156.1,234.7 156.6,233.1 156.6,231.5 157.6,230.0 157.7,228.4 158.2,226.9 158.0,225.2 159.3,223.8 159.6,222.2 159.7,220.6 160.5,219.1 160.6,217.4 161.9,216.1 161.9,214.3 162.6,212.8 162.8,211.2 163.7,209.8 163.5,208.0 164.7,206.7 164.6,205.0 164.2,203.2 164.6,201.4 165.2,199.6 165.0,197.8 165.3,196.0 165.5,194.2 165.4,192.2 167.0,190.6 167.3,188.7 167.4,186.7 168.3,184.9 167.9,182.9 168.7,181.1 169.4,179.3 169.9,177.4 170.5,175.6 170.4,173.8 170.8,172.1 171.6,170.4 171.4,168.6 171.7,166.9 172.8,165.3 172.9,163.5 172.8,165.3 172.8,167.0 173.0,168.7 174.1,170.4 174.2,172.1 173.5,173.9 174.2,175.6 174.1,177.3 174.4,179.0 174.2,180.7 174.0,182.4 173.9,184.1 174.4,185.8 174.4,187.4 175.2,189.1 174.4,190.8 175.0,192.5 174.8,194.2 175.4,195.8 174.9,197.5 175.2,199.2 175.0,200.9 175.7,202.5 175.4,204.2 175.4,205.9 176.1,207.5 175.8,209.2 175.7,210.9 175.8,212.6 176.5,214.2 176.2,215.9 176.3,217.6 177.2,219.2 177.2,220.9 177.0,222.6 177.3,224.2 177.1,226.0 177.6,227.6 178.2,229.8 178.2,232.0 178.9,233.7 178.3,235.5 179.0,237.2 178.3,239.1 178.7,240.8 179.3,242.4 178.9,244.1 179.1,245.7 179.5,247.4 179.6,249.0 179.3,250.7 180.1,252.2 180.3,253.9 180.4,255.6 181.6,256.9 182.6,258.4 184.2,259.2 185.9,260.0 187.9,260.5 190.0,261.0" fill="none" stroke="#1a1aae" stroke-width="1.15" stroke-linejoin="round"/>
<path d="M148.40,261.40 V157.90 H263.40 V261.40 H148.40Z" fill="none" stroke="#2e2e2e" stroke-width="1.45"/>
<line x1="148.70" y1="157.9" x2="148.70" y2="261.4" stroke="#26268e" stroke-width="2.5"/>
<path d="M148.40,261.40v6.5 M157.05,261.40v3.3 M162.11,261.40v3.3 M165.70,261.40v3.3 M168.48,261.40v3.3 M170.76,261.40v3.3 M172.68,261.40v3.3 M174.35,261.40v3.3 M175.82,261.40v3.3 M177.13,261.40v6.5 M185.78,261.40v3.3 M190.84,261.40v3.3 M194.43,261.40v3.3 M197.21,261.40v3.3 M199.49,261.40v3.3 M201.41,261.40v3.3 M203.08,261.40v3.3 M204.55,261.40v3.3 M205.86,261.40v6.5 M214.51,261.40v3.3 M219.57,261.40v3.3 M223.16,261.40v3.3 M225.94,261.40v3.3 M228.22,261.40v3.3 M230.14,261.40v3.3 M231.81,261.40v3.3 M233.28,261.40v3.3 M234.59,261.40v6.5 M243.24,261.40v3.3 M248.30,261.40v3.3 M251.89,261.40v3.3 M254.67,261.40v3.3 M256.95,261.40v3.3 M258.87,261.40v3.3 M260.54,261.40v3.3 M262.01,261.40v3.3 M263.32,261.40v6.5" stroke="#333" stroke-width="1.2" fill="none"/>
<text x="209.9" y="152.0" font-size="14.5" text-anchor="middle" fill="#111">Wsu-NHL</text>
<polyline points="274.5,236.0 275.5,234.3 275.9,232.3 276.0,230.2 277.0,228.4 277.8,226.5 278.2,224.8 278.6,223.2 279.8,221.8 280.0,220.0 280.6,218.4 280.8,216.7 281.7,215.3 281.9,213.5 282.1,211.9 283.5,210.6 283.7,208.9 284.0,207.3 284.2,205.6 284.4,203.9 285.5,202.5 285.6,200.8 285.7,199.1 286.2,197.5 286.5,195.8 286.8,194.2 287.0,192.5 287.2,190.8 287.4,189.1 287.7,187.4 287.6,185.7 288.8,184.1 288.7,182.4 288.9,180.7 289.2,179.0 288.8,177.2 289.6,175.6 290.2,173.9 289.5,172.1 290.3,170.4 290.2,168.6 290.2,166.8 289.9,165.1 290.5,163.3 290.7,161.6 290.5,159.8 292.4,159.8 293.0,161.5 293.1,163.3 292.7,165.1 293.7,166.8 293.2,168.7 294.4,170.3 294.7,172.0 294.6,173.8 294.8,175.6 295.1,177.3 294.9,179.0 294.8,180.7 295.6,182.3 295.3,184.1 295.5,185.8 296.4,187.4 296.6,189.1 296.5,190.8 296.8,192.5 296.6,194.2 296.3,195.8 296.1,197.5 296.4,199.1 296.5,200.8 296.8,202.4 296.0,204.1 296.3,205.7 296.7,207.4 296.1,209.0 295.7,210.6 295.9,212.2 296.9,213.8 296.6,215.5 296.0,217.1 296.1,218.7 296.5,220.3 296.9,221.9 297.1,223.5 297.3,225.1 297.1,226.8 297.5,228.4 297.1,230.0 297.4,231.7 297.2,233.4 296.9,235.1 297.3,236.7 297.7,238.4 298.3,240.0 297.9,241.7 298.2,243.4 298.1,245.0 298.1,246.7 298.3,248.4 298.0,250.1 298.3,251.8 298.8,253.4 299.2,255.3 299.8,257.1 300.9,258.7 302.4,259.6 304.0,260.6" fill="none" stroke="#8c8c8c" stroke-width="1.0" stroke-linejoin="round"/>
<polyline points="275.9,259.7 277.4,258.5 278.8,257.3 280.9,256.3 282.7,254.8 284.5,254.1 285.9,252.8 287.6,251.9 288.3,250.4 289.4,249.2 290.5,248.0 290.6,246.4 291.0,244.8 292.0,243.4 292.0,241.7 292.5,240.2 292.9,238.5 292.7,236.8 293.3,235.2 293.1,233.4 293.8,231.8 294.1,230.1 294.0,228.4 294.4,226.8 294.1,225.0 294.8,223.4 294.9,221.7 294.9,220.0 294.9,218.3 295.4,216.7 296.0,214.8 296.2,212.9 296.1,210.9 296.4,209.2 296.4,207.5 296.5,205.9 296.8,204.2 296.7,202.5 297.3,200.9 297.5,199.2 297.4,197.5 297.4,195.8 297.9,194.2 297.8,192.3 298.5,190.5 298.5,188.6 299.0,186.8 298.9,184.9 299.2,183.0 299.8,181.2 300.3,179.4 300.4,177.5 300.7,175.6 300.9,173.7 301.4,171.9 302.0,170.1 302.3,168.2 302.6,166.3 303.1,164.5 303.6,162.8 303.4,160.9 304.1,159.2 304.7,160.9 304.7,162.7 304.7,164.6 305.0,166.3 305.4,168.1 305.7,170.0 306.1,171.9 306.5,173.8 307.2,175.6 307.5,177.5 308.0,179.3 308.2,181.2 308.7,183.0 308.7,184.9 308.8,186.8 309.0,188.6 309.3,190.5 309.4,192.3 309.6,194.2 309.6,195.9 309.6,197.5 310.0,199.1 310.2,200.8 310.1,202.4 310.3,204.1 310.3,205.7 310.5,207.3 310.4,209.0 310.8,210.6 310.9,212.2 310.7,213.9 311.4,215.4 311.4,217.1 311.5,218.7 311.8,220.3 311.4,222.0 311.6,223.6 311.9,225.2 312.5,226.7 312.2,228.4 312.6,230.0 312.7,231.8 313.0,233.5 313.7,235.2 313.7,237.0 314.1,238.6 314.5,240.3 314.8,241.9 315.3,243.5 315.5,245.2 315.6,246.9 316.4,248.4 316.8,250.1 317.1,251.7 317.2,253.4 318.1,255.3 319.6,256.9 321.3,258.1 323.1,259.2 324.6,260.0 326.0,260.8" fill="none" stroke="#38d038" stroke-width="1.15" stroke-linejoin="round"/>
<polyline points="273.9,247.0 274.5,244.1 275.4,242.2 275.9,240.2 277.2,238.4 277.8,236.3 278.8,234.4 278.7,232.2 279.8,230.4 280.6,228.9 280.3,227.2 281.3,225.8 281.9,224.3 281.7,222.6 282.3,221.1 282.9,219.6 283.2,218.0 283.3,216.4 283.7,214.8 284.5,213.3 283.8,211.4 284.2,209.8 284.6,208.2 284.8,206.5 285.6,205.0 286.2,203.3 286.8,201.5 287.0,199.6 287.0,197.7 287.8,196.0 288.1,194.2 288.3,192.5 289.1,190.9 289.3,189.2 288.9,187.4 289.8,185.8 289.1,184.0 289.1,182.3 290.2,180.7 289.8,178.9 290.2,177.3 290.5,175.6 291.1,173.8 291.8,171.9 292.4,170.1 292.4,168.1 293.3,169.9 292.8,172.0 293.3,173.8 294.2,175.6 294.7,177.3 294.0,179.0 294.5,180.7 294.6,182.4 295.5,184.0 294.7,185.8 295.7,187.4 295.4,189.1 295.2,190.9 296.4,192.5 296.1,194.2 295.7,195.9 296.6,197.5 297.0,199.1 296.0,200.8 296.3,202.4 297.1,204.0 296.5,205.7 297.2,207.3 297.0,209.0 297.4,210.6 297.4,212.2 297.8,213.8 297.1,215.5 298.1,217.0 297.9,218.7 298.2,220.3 298.2,221.9 298.3,223.6 298.1,225.2 298.7,226.8 299.3,228.3 299.1,230.0 299.4,231.9 299.3,233.8 299.1,235.7 300.1,237.5 299.9,239.4 300.0,241.2 300.4,242.9 300.7,244.7 300.6,246.5 300.9,248.2 301.5,249.9 302.5,251.5 302.6,253.6 303.8,255.1 304.3,257.3 305.5,259.2 307.3,259.9 309.1,260.6 312.0,261.2" fill="none" stroke="#1a1aae" stroke-width="1.15" stroke-linejoin="round"/>
<path d="M273.30,261.40 V157.90 H388.40 V261.40 H273.30Z" fill="none" stroke="#2e2e2e" stroke-width="1.45"/>
<line x1="273.20" y1="157.9" x2="273.20" y2="261.4" stroke="#121240" stroke-width="1.7"/>
<path d="M273.30,261.40v6.5 M281.95,261.40v3.3 M287.01,261.40v3.3 M290.60,261.40v3.3 M293.38,261.40v3.3 M295.66,261.40v3.3 M297.58,261.40v3.3 M299.25,261.40v3.3 M300.72,261.40v3.3 M302.03,261.40v6.5 M310.68,261.40v3.3 M315.74,261.40v3.3 M319.33,261.40v3.3 M322.11,261.40v3.3 M324.39,261.40v3.3 M326.31,261.40v3.3 M327.98,261.40v3.3 M329.45,261.40v3.3 M330.76,261.40v6.5 M339.41,261.40v3.3 M344.47,261.40v3.3 M348.06,261.40v3.3 M350.84,261.40v3.3 M353.12,261.40v3.3 M355.04,261.40v3.3 M356.71,261.40v3.3 M358.18,261.40v3.3 M359.49,261.40v6.5 M368.14,261.40v3.3 M373.20,261.40v3.3 M376.79,261.40v3.3 M379.57,261.40v3.3 M381.85,261.40v3.3 M383.77,261.40v3.3 M385.44,261.40v3.3 M386.91,261.40v3.3 M388.22,261.40v6.5" stroke="#333" stroke-width="1.2" fill="none"/>
<text x="334.0" y="152.0" font-size="14.5" text-anchor="middle" fill="#111">LY18</text>
<text x="273" y="287.1" font-size="14.5" text-anchor="middle" fill="#111">Expression (log)</text>
<text transform="translate(11.2,140.5) rotate(-90)" font-size="14.5" text-anchor="middle" fill="#111">Cell number</text>
<line x1="403.4" y1="189" x2="431.2" y2="189" stroke="#8a8a8a" stroke-width="3"/>
<line x1="403.4" y1="206.4" x2="431.2" y2="206.4" stroke="#2ada26" stroke-width="3"/>
<line x1="403.4" y1="224.6" x2="431.2" y2="224.6" stroke="#0c0cc0" stroke-width="3.2"/>
<text x="446.5" y="193.4" font-size="13" fill="#111">Control</text>
<text x="438.2" y="209.7" font-size="13" fill="#111">- BCR</text>
<text x="435.3" y="228" font-size="13" fill="#111">+ R406, - BCR</text>
</svg></body></html>
